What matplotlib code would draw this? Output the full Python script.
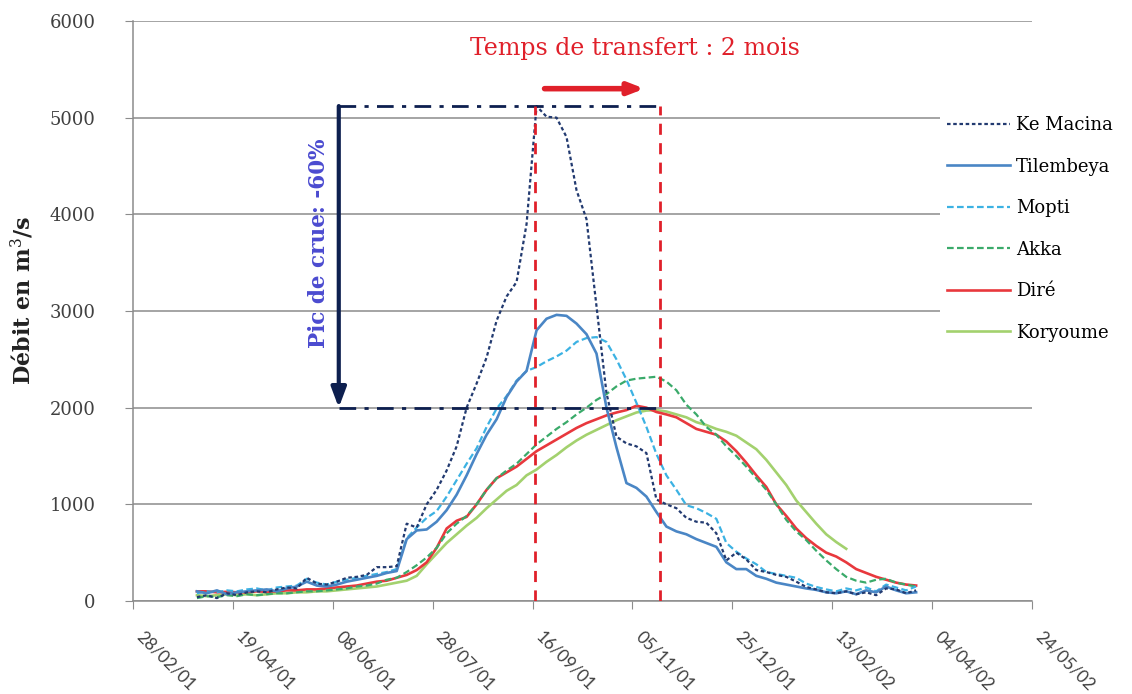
import matplotlib
matplotlib.use("Agg")
import matplotlib.pyplot as plt
import matplotlib.dates as mdates
import numpy as np
import pandas as pd

# ---------------- data ----------------
start_date = "2001-04-01"
step_days = 5
n_points = 73

ke_macina = [40, 60, 30, 80, 60, 90, 100, 90, 120, 140,
             130, 240, 180, 170, 200, 240, 250, 270, 350, 350,
             360, 800, 760, 1000, 1150, 1350, 1600, 2000, 2250, 2520,
             2900, 3150, 3300, 3900, 5120, 5010, 5000, 4800, 4250, 3950,
             3050, 2150, 1700, 1630, 1600, 1530, 1050, 1000, 960, 860,
             820, 810, 700, 420, 500, 430, 320, 300, 270, 250,
             200, 145, 120, 90, 80, 100, 70, 90, 60, 130,
             120, 80, 110]

tilembeya = [100, 80, 110, 70, 90, 100, 110, 120, 100, 130,
             150, 200, 160, 150, 170, 200, 220, 240, 260, 290,
             310, 640, 730, 740, 820, 940, 1100, 1300, 1520, 1720,
             1880, 2110, 2270, 2380, 2800, 2920, 2960, 2950, 2870, 2760,
             2560, 2000, 1590, 1220, 1170, 1080, 920, 770, 720, 690,
             640, 600, 560, 400, 330, 330, 260, 230, 190, 170,
             150, 130, 115, 90, 80, 100, 70, 110, 90, 150,
             110, 80, 90]

mopti = [80, 100, 90, 110, 100, 120, 130, 110, 140, 150,
         160, 230, 190, 170, 200, 220, 240, 260, 280, 300,
         330, 650, 760, 860, 930, 1080, 1250, 1420, 1580, 1800,
         1990, 2120, 2280, 2380, 2420, 2480, 2530, 2590, 2680, 2720,
         2730, 2680, 2500, 2290, 2050, 1800, 1520, 1300, 1150, 990,
         960, 910, 850, 600, 510, 440, 380, 300, 280, 260,
         240, 180, 145, 120, 100, 130, 110, 140, 100, 170,
         140, 110, 150]

akka = [30, 50, 40, 60, 50, 70, 60, 70, 80, 80,
        90, 100, 100, 110, 120, 130, 150, 160, 180, 220,
        240, 300, 370, 450, 550, 700, 800, 880, 1000, 1150,
        1270, 1350, 1420, 1520, 1620, 1700, 1780, 1850, 1930, 2000,
        2080, 2140, 2220, 2280, 2300, 2310, 2320, 2270, 2180, 2030,
        1930, 1800, 1720, 1600, 1500, 1390, 1270, 1150, 1000, 840,
        720, 630, 520, 420, 330, 250, 210, 190, 220, 230,
        190, 170, 150]

dire = [100, 100, 90, 95, 90, 90, 100, 95, 100, 110,
        110, 120, 120, 130, 140, 150, 160, 180, 200, 210,
        240, 270, 320, 400, 550, 750, 830, 870, 1000, 1150,
        1270, 1330, 1390, 1470, 1550, 1610, 1670, 1730, 1790, 1840,
        1880, 1920, 1950, 1975, 2020, 2000, 1955, 1930, 1900, 1840,
        1780, 1750, 1720, 1650, 1550, 1430, 1300, 1180, 1000, 880,
        750, 650, 570, 500, 460, 400, 330, 290, 250, 220,
        190, 170, 160]

koryoume = [60, 50, 60, 70, 60, 70, 60, 70, 80, 80,
            90, 90, 100, 100, 110, 120, 130, 140, 150, 170,
            190, 210, 260, 380, 490, 600, 690, 780, 860, 960,
            1050, 1140, 1200, 1300, 1360, 1440, 1510, 1590, 1660, 1720,
            1770, 1820, 1870, 1910, 1950, 1970, 1975, 1960, 1930, 1900,
            1850, 1820, 1780, 1750, 1710, 1640, 1570, 1460, 1330, 1200,
            1040, 920, 800, 690, 610, 540, None, None, None, None,
            None, None, None]

series_names = ["Ke Macina", "Tilembeya", "Mopti", "Akka", "Diré", "Koryoume"]

xtick_start = "2001-02-28"
xtick_end = "2002-05-24"
yticks = [0, 1000, 2000, 3000, 4000, 5000, 6000]

# annotation anchors
peak_value = 5120
reduced_value = 2000
arrow_date = "2001-06-11"
transfer_start = "2001-09-17"
transfer_end = "2001-11-19"
red_arrow_from = "2001-09-22"
red_arrow_to = "2001-11-11"
red_arrow_value = 5300
title_date = "2001-11-06"
title_value = 5720
pic_date = "2001-06-01"
pic_value = 3700

# ---------------- figure ----------------
serif = ["DejaVu Serif"]
plt.rcParams["font.family"] = serif
plt.rcParams["mathtext.fontset"] = "dejavuserif"

fig = plt.figure(figsize=(11.32, 6.94), dpi=100)
ax = fig.add_axes([133 / 1132, 1 - 601 / 694, (1032 - 133) / 1132, (601 - 21) / 694])

dates = pd.date_range(start_date, periods=n_points, freq=f"{step_days}D")

def arr(v):
    return np.array([np.nan if x is None else x for x in v], dtype=float)

styles = [
    dict(color="#223a70", lw=1.6, ls=(0, (1.6, 1.2))),
    dict(color="#4a86c5", lw=1.9, ls="-"),
    dict(color="#3cb2e3", lw=1.6, ls=(0, (3, 1.5))),
    dict(color="#3aaa6a", lw=1.6, ls=(0, (3, 1.5))),
    dict(color="#e8383d", lw=1.9, ls="-"),
    dict(color="#a3d16e", lw=1.9, ls="-"),
]
data = [ke_macina, tilembeya, mopti, akka, dire, koryoume]
order = [5, 3, 4, 2, 1, 0]
lines = {}
for i in order:
    st = styles[i]
    (ln,) = ax.plot(dates, arr(data[i]), color=st["color"], lw=st["lw"],
                    linestyle=st["ls"], label=series_names[i], zorder=3 + (5 - i) * 0.1)
    lines[i] = ln

# axes formatting
x0 = pd.Timestamp(xtick_start)
x1 = pd.Timestamp(xtick_end)
ax.set_xlim(x0, x1)
ax.set_ylim(0, 6000)
ax.set_xticks(pd.date_range(x0, x1, freq="50D"))
ax.xaxis.set_major_formatter(mdates.DateFormatter("%d/%m/%y"))
ax.set_yticks(yticks)
ax.yaxis.grid(True, color="#8c8c8c", lw=1.1, zorder=0)
ax.set_axisbelow(True)
for s in ["top", "right"]:
    ax.spines[s].set_visible(False)
for s in ["left", "bottom"]:
    ax.spines[s].set_color("#8c8c8c")
    ax.spines[s].set_linewidth(1.1)
ax.tick_params(axis="x", length=6, color="#8c8c8c", pad=14)
ax.tick_params(axis="y", length=6, color="#8c8c8c", pad=21)
for lab in ax.get_xticklabels():
    lab.set_rotation(-45)
    lab.set_ha("left")
    lab.set_va("top")
    lab.set_fontfamily(["Lato", "DejaVu Sans"])
    lab.set_fontsize(12.5)
    lab.set_color("#404040")
for lab in ax.get_yticklabels():
    lab.set_fontsize(13)
    lab.set_color("#404040")

fig.text(22 / 1132, 1 - 300 / 694, "Débit en m$^3$/s", rotation=90, ha="center",
         va="center", fontsize=16, fontweight="bold", color="#222222")

# annotations
navy = "#0d1f4f"
red = "#e0202a"
t_arrow = pd.Timestamp(arrow_date)
t_s = pd.Timestamp(transfer_start)
t_e = pd.Timestamp(transfer_end)
dd = (0, (6, 3, 1.5, 3))
ax.plot([t_arrow, t_e], [peak_value, peak_value], color=navy, lw=2, ls=dd, zorder=6)
ax.plot([t_arrow, t_e], [reduced_value, reduced_value], color=navy, lw=2, ls=dd, zorder=6)
ax.annotate("", xy=(t_arrow, reduced_value), xytext=(t_arrow, peak_value),
            arrowprops=dict(arrowstyle="-|>,head_width=0.45,head_length=1.2",
                            color=navy, lw=3, shrinkA=0, shrinkB=0), zorder=7)
ax.plot([t_s, t_s], [0, peak_value], color=red, lw=2, ls=(0, (4, 3)), zorder=6)
ax.plot([t_e, t_e], [0, peak_value], color=red, lw=2, ls=(0, (4, 3)), zorder=6)
ax.annotate("", xy=(pd.Timestamp(red_arrow_to), red_arrow_value),
            xytext=(pd.Timestamp(red_arrow_from), red_arrow_value),
            arrowprops=dict(arrowstyle="-|>,head_width=0.35,head_length=0.9",
                            color=red, lw=4, shrinkA=0, shrinkB=0), zorder=7)
ax.text(pd.Timestamp(title_date), title_value, "Temps de transfert : 2 mois",
        color=red, fontsize=17, ha="center", va="center", zorder=7)
ax.text(pd.Timestamp(pic_date), pic_value, "Pic de crue: -60%", rotation=90,
        color="#4b4bd0", fontsize=15.5, fontweight="bold", ha="center", va="center", zorder=7)

handles = [lines[i] for i in range(6)]
leg = fig.legend(handles, series_names, loc="upper left",
                 bbox_to_anchor=(940 / 1132, 1 - 109 / 694), frameon=True,
                 fontsize=13, handlelength=3.5, handletextpad=0.3, labelspacing=1.3,
                 borderpad=0.4, borderaxespad=0)
leg.get_frame().set_facecolor("white")
leg.get_frame().set_edgecolor("none")
leg.get_frame().set_alpha(1)

fig.savefig("out.png", dpi=100)
